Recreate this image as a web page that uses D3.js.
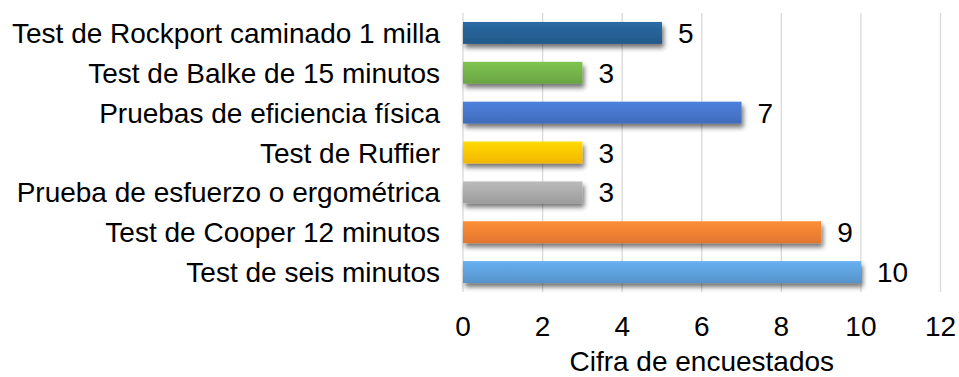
<!DOCTYPE html>
<html><head><meta charset="utf-8">
<script src="https://cdn.jsdelivr.net/npm/d3@7/dist/d3.min.js"></script>
<style>body{margin:0;background:#fff;} svg{display:block;} text{font-family:"Liberation Sans",Arial,sans-serif;fill:#000;}</style>
</head><body>
<svg id="c" width="959" height="377"></svg>
<script>
const categories = ["Test de Rockport caminado 1 milla","Test de Balke de 15 minutos","Pruebas de eficiencia física","Test de Ruffier","Prueba de esfuerzo o ergométrica","Test de Cooper 12 minutos","Test de seis minutos"];
const values = [5,3,7,3,3,9,10];
const colors = ["#255E91","#70AD47","#4472C4","#FFC000","#A5A5A5","#ED7D31","#5B9BD5"];
const ticks = [0,2,4,6,8,10,12];
const axisTitle = "Cifra de encuestados";

const svg = d3.select("#c");
const FS = 28;
const m = {left:463, right:940.5, top:13, bottom:292};
const x = d3.scaleLinear().domain([0,12]).range([m.left,m.right]);
const y = d3.scaleBand().domain(categories).range([m.top,m.bottom]).paddingInner(0.45).paddingOuter(0.225);

const defs = svg.append("defs");
const f = defs.append("filter").attr("id","sh").attr("x","-10%").attr("y","-50%").attr("width","130%").attr("height","250%");
f.append("feGaussianBlur").attr("in","SourceAlpha").attr("stdDeviation",2.4);
f.append("feOffset").attr("dx",2).attr("dy",3.5).attr("result","b");
f.append("feComponentTransfer").append("feFuncA").attr("type","linear").attr("slope",0.55);
const mg = f.append("feMerge"); mg.append("feMergeNode"); mg.append("feMergeNode").attr("in","SourceGraphic");

colors.forEach((c,i)=>{
  const g = defs.append("linearGradient").attr("id","g"+i).attr("x1",0).attr("y1",0).attr("x2",0).attr("y2",1);
  g.append("stop").attr("offset","0%").attr("stop-color",d3.color(c).brighter(0.35));
  g.append("stop").attr("offset","100%").attr("stop-color",d3.color(c).darker(0.15));
});

// grid
svg.append("g").selectAll("line").data(ticks).join("line")
  .attr("x1",d=>x(d)).attr("x2",d=>x(d)).attr("y1",m.top).attr("y2",m.bottom)
  .attr("stroke","#D9D9D9").attr("stroke-width",1.3);

// bars
svg.append("g").selectAll("rect").data(values).join("rect")
  .attr("x",x(0)).attr("y",(d,i)=>y(categories[i])).attr("width",d=>x(d)-x(0)).attr("height",y.bandwidth())
  .attr("fill",(d,i)=>`url(#g${i})`).attr("filter","url(#sh)");

// value labels
svg.append("g").selectAll("text").data(values).join("text")
  .attr("x",d=>x(d)+16).attr("y",(d,i)=>y(categories[i])+y.bandwidth()/2)
  .attr("dy","0.36em").attr("font-size",FS).text(d=>d);

// category labels
svg.append("g").selectAll("text").data(categories).join("text")
  .attr("x",440).attr("y",d=>y(d)+y.bandwidth()/2).attr("dy","0.36em")
  .attr("text-anchor","end").attr("font-size",FS).text(d=>d);

// x tick labels
svg.append("g").selectAll("text").data(ticks).join("text")
  .attr("x",d=>x(d)).attr("y",326).attr("dy","0.36em").attr("text-anchor","middle")
  .attr("font-size",FS).text(d=>d);

svg.append("text").attr("x",(x(0)+x(12))/2).attr("y",361).attr("dy","0.36em")
  .attr("text-anchor","middle").attr("font-size",FS).text(axisTitle);
</script>
</body></html>
